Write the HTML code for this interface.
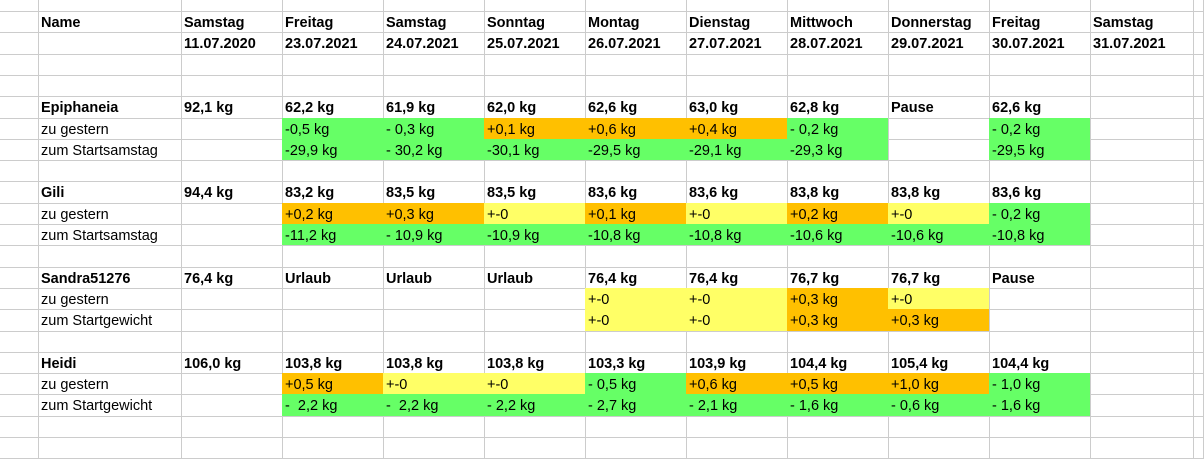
<!DOCTYPE html>
<html><head><meta charset="utf-8"><style>
body{margin:0;width:1204px;height:454px;overflow:hidden;background:#fff;font-family:"Liberation Sans",Arial,sans-serif;}
#sheet{position:relative;width:1204px;height:454px;}
.c{position:absolute;box-sizing:border-box;border-right:1px solid #cccccc;border-bottom:1px solid #cccccc;font-size:14.5px;line-height:21px;padding-left:3px;padding-top:2px;white-space:nowrap;overflow:hidden;color:#000;}
.b{font-weight:bold;}
.g{background:#66ff66;}.o{background:#ffc000;}.y{background:#ffff66;}
</style></head><body>
<div id="sheet"></div>
<script>
const colX=[0,39,182,283,384,485,586,687,788,889,990,1091,1194,1204];
const rows=[
 [["Name","b"],["Samstag","b"],["Freitag","b"],["Samstag","b"],["Sonntag","b"],["Montag","b"],["Dienstag","b"],["Mittwoch","b"],["Donnerstag","b"],["Freitag","b"],["Samstag","b"]],
 [["",""],["11.07.2020","b"],["23.07.2021","b"],["24.07.2021","b"],["25.07.2021","b"],["26.07.2021","b"],["27.07.2021","b"],["28.07.2021","b"],["29.07.2021","b"],["30.07.2021","b"],["31.07.2021","b"]],
 [],[],
 [["Epiphaneia","b"],["92,1 kg","b"],["62,2 kg","b"],["61,9 kg","b"],["62,0 kg","b"],["62,6 kg","b"],["63,0 kg","b"],["62,8 kg","b"],["Pause","b"],["62,6 kg","b"]],
 [["zu gestern",""],["",""],["-0,5 kg","g"],["- 0,3 kg","g"],["+0,1 kg","o"],["+0,6 kg","o"],["+0,4 kg","o"],["- 0,2 kg","g"],["",""],["- 0,2 kg","g"]],
 [["zum Startsamstag",""],["",""],["-29,9 kg","g"],["- 30,2 kg","g"],["-30,1 kg","g"],["-29,5 kg","g"],["-29,1 kg","g"],["-29,3 kg","g"],["",""],["-29,5 kg","g"]],
 [],
 [["Gili","b"],["94,4 kg","b"],["83,2 kg","b"],["83,5 kg","b"],["83,5 kg","b"],["83,6 kg","b"],["83,6 kg","b"],["83,8 kg","b"],["83,8 kg","b"],["83,6 kg","b"]],
 [["zu gestern",""],["",""],["+0,2 kg","o"],["+0,3 kg","o"],["+-0","y"],["+0,1 kg","o"],["+-0","y"],["+0,2 kg","o"],["+-0","y"],["- 0,2 kg","g"]],
 [["zum Startsamstag",""],["",""],["-11,2 kg","g"],["- 10,9 kg","g"],["-10,9 kg","g"],["-10,8 kg","g"],["-10,8 kg","g"],["-10,6 kg","g"],["-10,6 kg","g"],["-10,8 kg","g"]],
 [],
 [["Sandra51276","b"],["76,4 kg","b"],["Urlaub","b"],["Urlaub","b"],["Urlaub","b"],["76,4 kg","b"],["76,4 kg","b"],["76,7 kg","b"],["76,7 kg","b"],["Pause","b"]],
 [["zu gestern",""],["",""],["",""],["",""],["",""],["+-0","y"],["+-0","y"],["+0,3 kg","o"],["+-0","y"]],
 [["zum Startgewicht",""],["",""],["",""],["",""],["",""],["+-0","y"],["+-0","y"],["+0,3 kg","o"],["+0,3 kg","o"]],
 [],
 [["Heidi","b"],["106,0 kg","b"],["103,8 kg","b"],["103,8 kg","b"],["103,8 kg","b"],["103,3 kg","b"],["103,9 kg","b"],["104,4 kg","b"],["105,4 kg","b"],["104,4 kg","b"]],
 [["zu gestern",""],["",""],["+0,5 kg","o"],["+-0","y"],["+-0","y"],["- 0,5 kg","g"],["+0,6 kg","o"],["+0,5 kg","o"],["+1,0 kg","o"],["- 1,0 kg","g"]],
 [["zum Startgewicht",""],["",""],["-&nbsp; 2,2 kg","g"],["-&nbsp; 2,2 kg","g"],["- 2,2 kg","g"],["- 2,7 kg","g"],["- 2,1 kg","g"],["- 1,6 kg","g"],["- 0,6 kg","g"],["- 1,6 kg","g"]],
 [],[]
];
const sheet=document.getElementById('sheet');
const rowY=i=>i<0?0:Math.round(12+21.3*i);
for(let r=-1;r<rows.length;r++){
  const top=r<0?-1:rowY(r);
  const h=r<0?13:rowY(r+1)-rowY(r);
  for(let c=0;c<colX.length-1;c++){
    const d=document.createElement('div');
    
    
    let cls='c';
    const data=r>=0&&c>=1?rows[r][c-1]:null;
    if(data){d.innerHTML=data[0];if(data[1])cls+=' '+data[1];}
    d.className=cls;
    d.style.left=(colX[c]-1)+'px';
    d.style.top=(top-1)+'px';
    d.style.width=(colX[c+1]-colX[c]+1)+'px';
    d.style.height=(h+1)+'px';
    sheet.appendChild(d);
  }
}
</script>
</body></html>
